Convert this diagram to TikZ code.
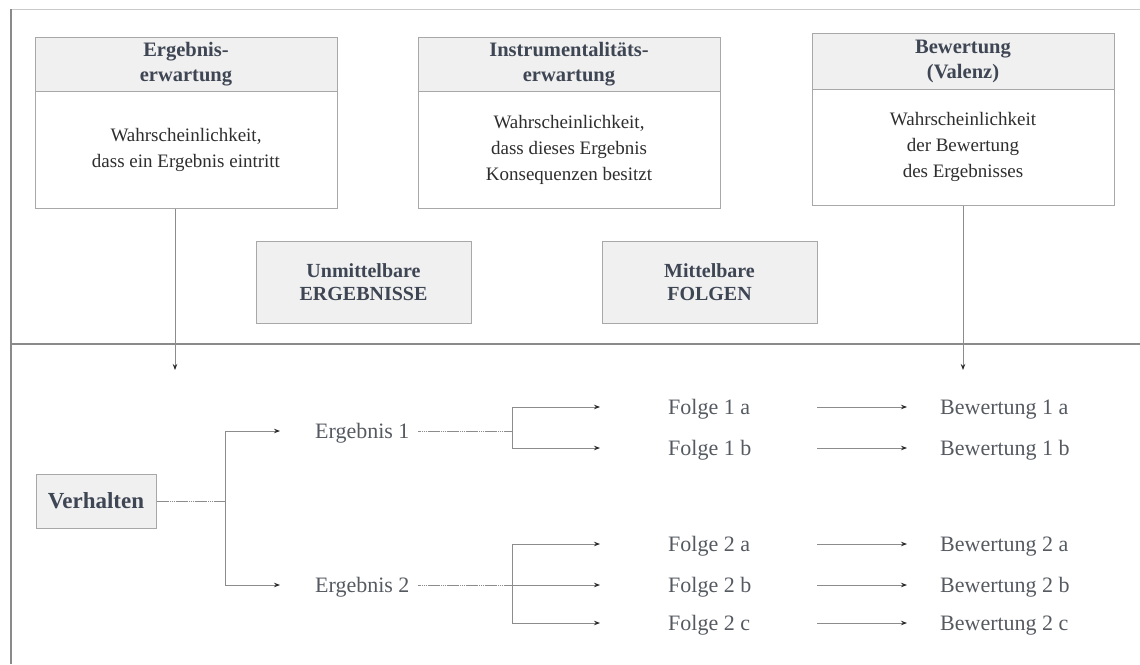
\documentclass[tikz,border=0pt]{standalone}
\usepackage{fontspec}
\setmainfont{Liberation Serif}
\usetikzlibrary{arrows.meta}

\definecolor{hdtext}{HTML}{3E4553}
\definecolor{boxline}{HTML}{A8A8A8}
\definecolor{hdfill}{HTML}{F0F0F0}
\definecolor{bodytext}{HTML}{2E2E2E}
\definecolor{lowtext}{HTML}{555A61}
\definecolor{conn}{HTML}{8C8C8C}
\definecolor{tipc}{HTML}{2A2A2A}
\definecolor{frameline}{HTML}{8A8A8A}
\definecolor{topline}{HTML}{CACACA}

\tikzset{
  headbox/.style={draw=boxline, line width=1pt, fill=hdfill, text=hdtext,
    font=\fontsize{20.5}{25}\selectfont\bfseries, align=center, inner sep=0pt},
  bodybox/.style={draw=boxline, line width=1pt, fill=white, text=bodytext,
    font=\fontsize{19}{26}\selectfont, align=center, inner sep=0pt},
  lowlabel/.style={text=lowtext, font=\fontsize{22}{26}\selectfont, inner sep=0pt,
    text height=14.6pt, text depth=0pt, anchor=west},
  arr/.style={draw=conn, line width=0.8pt, -{Stealth[length=6pt,width=4.5pt,color=tipc]}},
  link/.style={draw=conn, line width=0.8pt, dash pattern=on 1.5pt off 0.4pt},
  vline/.style={draw=frameline, line width=1.4pt},
}

\begin{document}
\begin{tikzpicture}[x=1pt,y=-1pt]
\useasboundingbox (0,0) rectangle (1140,664);

% frame and separator
\coordinate (ftl) at (11,9);
\coordinate (ftr) at (1140,9);
\coordinate (fbl) at (11,664);
\coordinate (sl) at (11,344);
\coordinate (sr) at (1140,344);
\draw[topline, line width=1pt] (ftl) -- (ftr);
\draw[vline] (ftl) -- (fbl);
\draw[vline] (sl) -- (sr);

% upper boxes: header + body
\node[headbox, minimum width=302pt, minimum height=54pt] (h1) at (186,64) {Ergebnis-\\erwartung};
\node[bodybox, minimum width=302pt, minimum height=117pt] (b1) at (186,149.5) {Wahrscheinlichkeit,\\dass ein Ergebnis eintritt};

\node[headbox, minimum width=302pt, minimum height=54pt] (h2) at (569,64) {Instrumentalitäts-\\erwartung};
\node[bodybox, minimum width=302pt, minimum height=117pt] (b2) at (569,149.5) {Wahrscheinlichkeit,\\dass dieses Ergebnis\\Konsequenzen besitzt};

\node[headbox, minimum width=302pt, minimum height=56pt] (h3) at (963,61) {Bewertung\\(Valenz)};
\node[bodybox, minimum width=302pt, minimum height=116pt] (b3) at (963,147) {Wahrscheinlichkeit\\der Bewertung\\des Ergebnisses};

\node[headbox, minimum width=215pt, minimum height=82pt, font=\fontsize{20}{23}\selectfont\bfseries] (um) at (363.5,282) {Unmittelbare\\ERGEBNISSE};
\node[headbox, minimum width=215pt, minimum height=82pt, font=\fontsize{20}{23}\selectfont\bfseries] (mf) at (709.5,282) {Mittelbare\\FOLGEN};

% downward arrows into the lower part
\coordinate (v1) at (175,370);
\coordinate (v3) at (963,370);
\draw[arr] ([xshift=-11pt]b1.south) -- (v1);
\draw[arr] (b3.south) -- (v3);

% lower part
\node[headbox, minimum width=120pt, minimum height=54pt, font=\fontsize{23}{25}\selectfont\bfseries] (vh) at (96,501) {Verhalten};

\node[lowlabel] (e1) at (315,431) {Ergebnis 1};
\node[lowlabel] (e2) at (315,585) {Ergebnis 2};

\node[lowlabel] (f1a) at (668,407) {Folge 1 a};
\node[lowlabel] (f1b) at (668,448) {Folge 1 b};
\node[lowlabel] (f2a) at (668,544) {Folge 2 a};
\node[lowlabel] (f2b) at (668,585) {Folge 2 b};
\node[lowlabel] (f2c) at (668,623) {Folge 2 c};

\node[lowlabel] (w1a) at (940,407) {Bewertung 1 a};
\node[lowlabel] (w1b) at (940,448) {Bewertung 1 b};
\node[lowlabel] (w2a) at (940,544) {Bewertung 2 a};
\node[lowlabel] (w2b) at (940,585) {Bewertung 2 b};
\node[lowlabel] (w2c) at (940,623) {Bewertung 2 c};

% Verhalten -> Ergebnisse
\coordinate (k0) at (225,501);
\draw[link] (vh.east) -- (k0);
\draw[arr, shorten >=35pt] (k0) |- (e1.west);
\draw[arr, shorten >=35pt] (k0) |- (e2.west);

% Ergebnis 1 -> Folgen
\coordinate (k1) at (512,431);
\draw[link] ([xshift=103pt]e1.west) -- (k1);
\draw[arr, shorten >=68pt] (k1) |- (f1a.west);
\draw[arr, shorten >=68pt] (k1) |- (f1b.west);

% Ergebnis 2 -> Folgen
\coordinate (k2) at (512,585);
\draw[link] ([xshift=103pt]e2.west) -- (k2);
\draw[arr, shorten >=68pt] (k2) |- (f2a.west);
\draw[arr, shorten >=68pt] (k2) -- (f2b.west);
\draw[arr, shorten >=68pt] (k2) |- (f2c.west);

% Folgen -> Bewertungen
\foreach \f/\w in {f1a/w1a, f1b/w1b, f2a/w2a, f2b/w2b, f2c/w2c}
  \draw[arr, shorten >=33pt] ([xshift=149pt]\f.west) -- (\w.west);
\end{tikzpicture}
\end{document}
